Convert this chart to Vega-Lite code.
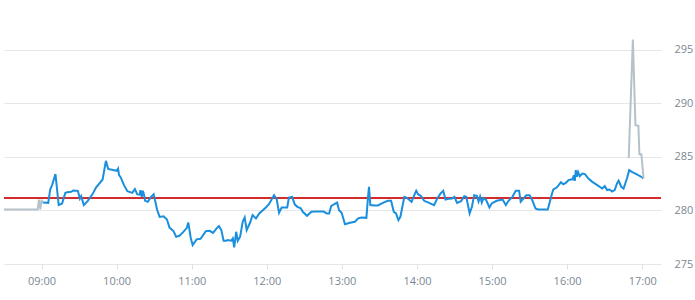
{
  "$schema": "https://vega.github.io/schema/vega-lite/v6.json",
  "width": 695,
  "height": 300,
  "autosize": {"type": "fit", "contains": "padding"},
  "padding": {"left": 0, "top": 0, "right": 2, "bottom": 14},
  "background": "white",
  "config": {"view": {"stroke": null}, "font": "Open Sans"},
  "data": {"values": [
      {"t": "2024-01-02T08:30:00Z", "v": 280.1, "s": "pre"},
      {"t": "2024-01-02T08:55:04Z", "v": 280.1, "s": "pre"},
      {"t": "2024-01-02T08:56:53Z", "v": 280.1, "s": "pre"},
      {"t": "2024-01-02T08:57:54Z", "v": 281.0, "s": "pre"},
      {"t": "2024-01-02T08:59:00Z", "v": 280.1, "s": "pre"},
      {"t": "2024-01-02T09:00:02Z", "v": 281.0, "s": "pre"},
      {"t": "2024-01-02T09:00:50Z", "v": 280.74, "s": "pre"},
      {"t": "2024-01-02T09:00:50Z", "v": 280.74, "s": "reg"},
      {"t": "2024-01-02T09:05:20Z", "v": 280.71, "s": "reg"},
      {"t": "2024-01-02T09:06:55Z", "v": 281.95, "s": "reg"},
      {"t": "2024-01-02T09:08:30Z", "v": 282.39, "s": "reg"},
      {"t": "2024-01-02T09:11:07Z", "v": 283.39, "s": "reg"},
      {"t": "2024-01-02T09:13:43Z", "v": 280.5, "s": "reg"},
      {"t": "2024-01-02T09:16:24Z", "v": 280.65, "s": "reg"},
      {"t": "2024-01-02T09:19:01Z", "v": 281.64, "s": "reg"},
      {"t": "2024-01-02T09:20:35Z", "v": 281.7, "s": "reg"},
      {"t": "2024-01-02T09:23:45Z", "v": 281.74, "s": "reg"},
      {"t": "2024-01-02T09:25:20Z", "v": 281.86, "s": "reg"},
      {"t": "2024-01-02T09:29:03Z", "v": 281.83, "s": "reg"},
      {"t": "2024-01-02T09:30:38Z", "v": 281.1, "s": "reg"},
      {"t": "2024-01-02T09:31:40Z", "v": 281.33, "s": "reg"},
      {"t": "2024-01-02T09:33:47Z", "v": 280.5, "s": "reg"},
      {"t": "2024-01-02T09:36:58Z", "v": 280.9, "s": "reg"},
      {"t": "2024-01-02T09:40:55Z", "v": 281.55, "s": "reg"},
      {"t": "2024-01-02T09:43:31Z", "v": 282.14, "s": "reg"},
      {"t": "2024-01-02T09:48:49Z", "v": 282.89, "s": "reg"},
      {"t": "2024-01-02T09:51:25Z", "v": 284.63, "s": "reg"},
      {"t": "2024-01-02T09:53:14Z", "v": 283.88, "s": "reg"},
      {"t": "2024-01-02T10:00:07Z", "v": 283.7, "s": "reg"},
      {"t": "2024-01-02T10:01:09Z", "v": 283.9, "s": "reg"},
      {"t": "2024-01-02T10:01:56Z", "v": 283.3, "s": "reg"},
      {"t": "2024-01-02T10:03:17Z", "v": 283.08, "s": "reg"},
      {"t": "2024-01-02T10:05:53Z", "v": 282.36, "s": "reg"},
      {"t": "2024-01-02T10:08:35Z", "v": 281.8, "s": "reg"},
      {"t": "2024-01-02T10:12:32Z", "v": 281.64, "s": "reg"},
      {"t": "2024-01-02T10:14:35Z", "v": 282.0, "s": "reg"},
      {"t": "2024-01-02T10:16:29Z", "v": 281.5, "s": "reg"},
      {"t": "2024-01-02T10:18:18Z", "v": 281.47, "s": "reg"},
      {"t": "2024-01-02T10:19:05Z", "v": 281.9, "s": "reg"},
      {"t": "2024-01-02T10:20:07Z", "v": 281.27, "s": "reg"},
      {"t": "2024-01-02T10:20:55Z", "v": 281.84, "s": "reg"},
      {"t": "2024-01-02T10:21:42Z", "v": 281.57, "s": "reg"},
      {"t": "2024-01-02T10:22:48Z", "v": 280.9, "s": "reg"},
      {"t": "2024-01-02T10:24:52Z", "v": 280.8, "s": "reg"},
      {"t": "2024-01-02T10:27:33Z", "v": 281.27, "s": "reg"},
      {"t": "2024-01-02T10:29:36Z", "v": 281.52, "s": "reg"},
      {"t": "2024-01-02T10:31:11Z", "v": 280.7, "s": "reg"},
      {"t": "2024-01-02T10:32:17Z", "v": 280.09, "s": "reg"},
      {"t": "2024-01-02T10:34:21Z", "v": 279.4, "s": "reg"},
      {"t": "2024-01-02T10:37:31Z", "v": 279.45, "s": "reg"},
      {"t": "2024-01-02T10:40:12Z", "v": 279.16, "s": "reg"},
      {"t": "2024-01-02T10:42:15Z", "v": 278.4, "s": "reg"},
      {"t": "2024-01-02T10:45:25Z", "v": 278.07, "s": "reg"},
      {"t": "2024-01-02T10:47:33Z", "v": 277.54, "s": "reg"},
      {"t": "2024-01-02T10:50:10Z", "v": 277.63, "s": "reg"},
      {"t": "2024-01-02T10:53:19Z", "v": 278.0, "s": "reg"},
      {"t": "2024-01-02T10:56:01Z", "v": 278.35, "s": "reg"},
      {"t": "2024-01-02T10:57:16Z", "v": 278.88, "s": "reg"},
      {"t": "2024-01-02T10:59:10Z", "v": 277.48, "s": "reg"},
      {"t": "2024-01-02T11:00:45Z", "v": 276.76, "s": "reg"},
      {"t": "2024-01-02T11:03:55Z", "v": 277.3, "s": "reg"},
      {"t": "2024-01-02T11:07:04Z", "v": 277.35, "s": "reg"},
      {"t": "2024-01-02T11:11:16Z", "v": 278.07, "s": "reg"},
      {"t": "2024-01-02T11:14:25Z", "v": 278.1, "s": "reg"},
      {"t": "2024-01-02T11:17:02Z", "v": 277.9, "s": "reg"},
      {"t": "2024-01-02T11:19:43Z", "v": 278.3, "s": "reg"},
      {"t": "2024-01-02T11:21:46Z", "v": 278.54, "s": "reg"},
      {"t": "2024-01-02T11:23:40Z", "v": 278.16, "s": "reg"},
      {"t": "2024-01-02T11:25:29Z", "v": 277.17, "s": "reg"},
      {"t": "2024-01-02T11:27:38Z", "v": 277.17, "s": "reg"},
      {"t": "2024-01-02T11:28:53Z", "v": 277.23, "s": "reg"},
      {"t": "2024-01-02T11:31:35Z", "v": 277.17, "s": "reg"},
      {"t": "2024-01-02T11:32:50Z", "v": 277.39, "s": "reg"},
      {"t": "2024-01-02T11:33:57Z", "v": 276.55, "s": "reg"},
      {"t": "2024-01-02T11:35:32Z", "v": 278.01, "s": "reg"},
      {"t": "2024-01-02T11:36:47Z", "v": 277.17, "s": "reg"},
      {"t": "2024-01-02T11:38:41Z", "v": 277.55, "s": "reg"},
      {"t": "2024-01-02T11:40:45Z", "v": 278.94, "s": "reg"},
      {"t": "2024-01-02T11:42:20Z", "v": 279.35, "s": "reg"},
      {"t": "2024-01-02T11:43:55Z", "v": 278.16, "s": "reg"},
      {"t": "2024-01-02T11:46:36Z", "v": 278.85, "s": "reg"},
      {"t": "2024-01-02T11:48:39Z", "v": 279.56, "s": "reg"},
      {"t": "2024-01-02T11:51:20Z", "v": 279.25, "s": "reg"},
      {"t": "2024-01-02T11:53:57Z", "v": 279.72, "s": "reg"},
      {"t": "2024-01-02T11:59:15Z", "v": 280.28, "s": "reg"},
      {"t": "2024-01-02T12:01:51Z", "v": 280.6, "s": "reg"},
      {"t": "2024-01-02T12:05:49Z", "v": 281.43, "s": "reg"},
      {"t": "2024-01-02T12:07:56Z", "v": 281.03, "s": "reg"},
      {"t": "2024-01-02T12:09:46Z", "v": 279.78, "s": "reg"},
      {"t": "2024-01-02T12:11:53Z", "v": 280.28, "s": "reg"},
      {"t": "2024-01-02T12:16:19Z", "v": 280.28, "s": "reg"},
      {"t": "2024-01-02T12:17:40Z", "v": 281.2, "s": "reg"},
      {"t": "2024-01-02T12:20:16Z", "v": 281.27, "s": "reg"},
      {"t": "2024-01-02T12:22:25Z", "v": 280.55, "s": "reg"},
      {"t": "2024-01-02T12:24:32Z", "v": 280.34, "s": "reg"},
      {"t": "2024-01-02T12:27:09Z", "v": 280.2, "s": "reg"},
      {"t": "2024-01-02T12:28:44Z", "v": 279.87, "s": "reg"},
      {"t": "2024-01-02T12:32:08Z", "v": 279.5, "s": "reg"},
      {"t": "2024-01-02T12:35:37Z", "v": 279.87, "s": "reg"},
      {"t": "2024-01-02T12:38:46Z", "v": 279.9, "s": "reg"},
      {"t": "2024-01-02T12:41:56Z", "v": 279.9, "s": "reg"},
      {"t": "2024-01-02T12:45:20Z", "v": 279.9, "s": "reg"},
      {"t": "2024-01-02T12:47:56Z", "v": 279.72, "s": "reg"},
      {"t": "2024-01-02T12:49:50Z", "v": 279.72, "s": "reg"},
      {"t": "2024-01-02T12:51:25Z", "v": 280.4, "s": "reg"},
      {"t": "2024-01-02T12:54:02Z", "v": 280.6, "s": "reg"},
      {"t": "2024-01-02T12:56:10Z", "v": 280.74, "s": "reg"},
      {"t": "2024-01-02T12:57:44Z", "v": 280.03, "s": "reg"},
      {"t": "2024-01-02T12:59:48Z", "v": 279.78, "s": "reg"},
      {"t": "2024-01-02T13:02:29Z", "v": 278.72, "s": "reg"},
      {"t": "2024-01-02T13:06:26Z", "v": 278.85, "s": "reg"},
      {"t": "2024-01-02T13:10:23Z", "v": 278.94, "s": "reg"},
      {"t": "2024-01-02T13:13:00Z", "v": 279.26, "s": "reg"},
      {"t": "2024-01-02T13:15:37Z", "v": 279.34, "s": "reg"},
      {"t": "2024-01-02T13:19:34Z", "v": 279.31, "s": "reg"},
      {"t": "2024-01-02T13:20:54Z", "v": 281.27, "s": "reg"},
      {"t": "2024-01-02T13:21:41Z", "v": 282.2, "s": "reg"},
      {"t": "2024-01-02T13:22:43Z", "v": 280.5, "s": "reg"},
      {"t": "2024-01-02T13:26:12Z", "v": 280.47, "s": "reg"},
      {"t": "2024-01-02T13:28:49Z", "v": 280.47, "s": "reg"},
      {"t": "2024-01-02T13:32:46Z", "v": 280.71, "s": "reg"},
      {"t": "2024-01-02T13:36:43Z", "v": 280.9, "s": "reg"},
      {"t": "2024-01-02T13:39:19Z", "v": 280.9, "s": "reg"},
      {"t": "2024-01-02T13:41:28Z", "v": 279.87, "s": "reg"},
      {"t": "2024-01-02T13:43:16Z", "v": 279.72, "s": "reg"},
      {"t": "2024-01-02T13:45:10Z", "v": 279.1, "s": "reg"},
      {"t": "2024-01-02T13:46:45Z", "v": 279.41, "s": "reg"},
      {"t": "2024-01-02T13:49:55Z", "v": 281.27, "s": "reg"},
      {"t": "2024-01-02T13:51:58Z", "v": 281.18, "s": "reg"},
      {"t": "2024-01-02T13:55:41Z", "v": 280.8, "s": "reg"},
      {"t": "2024-01-02T13:57:16Z", "v": 281.27, "s": "reg"},
      {"t": "2024-01-02T13:59:24Z", "v": 281.83, "s": "reg"},
      {"t": "2024-01-02T14:00:59Z", "v": 281.49, "s": "reg"},
      {"t": "2024-01-02T14:03:02Z", "v": 281.37, "s": "reg"},
      {"t": "2024-01-02T14:05:44Z", "v": 280.9, "s": "reg"},
      {"t": "2024-01-02T14:09:41Z", "v": 280.71, "s": "reg"},
      {"t": "2024-01-02T14:13:38Z", "v": 280.5, "s": "reg"},
      {"t": "2024-01-02T14:16:14Z", "v": 281.12, "s": "reg"},
      {"t": "2024-01-02T14:18:51Z", "v": 281.59, "s": "reg"},
      {"t": "2024-01-02T14:20:59Z", "v": 281.83, "s": "reg"},
      {"t": "2024-01-02T14:22:48Z", "v": 281.02, "s": "reg"},
      {"t": "2024-01-02T14:25:29Z", "v": 281.09, "s": "reg"},
      {"t": "2024-01-02T14:28:06Z", "v": 281.12, "s": "reg"},
      {"t": "2024-01-02T14:29:55Z", "v": 281.27, "s": "reg"},
      {"t": "2024-01-02T14:32:03Z", "v": 280.71, "s": "reg"},
      {"t": "2024-01-02T14:35:13Z", "v": 280.87, "s": "reg"},
      {"t": "2024-01-02T14:37:49Z", "v": 281.33, "s": "reg"},
      {"t": "2024-01-02T14:39:24Z", "v": 281.27, "s": "reg"},
      {"t": "2024-01-02T14:42:05Z", "v": 279.72, "s": "reg"},
      {"t": "2024-01-02T14:43:55Z", "v": 280.34, "s": "reg"},
      {"t": "2024-01-02T14:45:44Z", "v": 281.43, "s": "reg"},
      {"t": "2024-01-02T14:47:52Z", "v": 281.37, "s": "reg"},
      {"t": "2024-01-02T14:49:12Z", "v": 280.84, "s": "reg"},
      {"t": "2024-01-02T14:50:28Z", "v": 281.31, "s": "reg"},
      {"t": "2024-01-02T14:51:49Z", "v": 280.74, "s": "reg"},
      {"t": "2024-01-02T14:53:10Z", "v": 281.15, "s": "reg"},
      {"t": "2024-01-02T14:55:13Z", "v": 280.99, "s": "reg"},
      {"t": "2024-01-02T14:57:54Z", "v": 280.28, "s": "reg"},
      {"t": "2024-01-02T14:59:43Z", "v": 280.65, "s": "reg"},
      {"t": "2024-01-02T15:03:40Z", "v": 280.9, "s": "reg"},
      {"t": "2024-01-02T15:08:25Z", "v": 281.02, "s": "reg"},
      {"t": "2024-01-02T15:11:01Z", "v": 280.5, "s": "reg"},
      {"t": "2024-01-02T15:13:10Z", "v": 280.9, "s": "reg"},
      {"t": "2024-01-02T15:16:19Z", "v": 281.27, "s": "reg"},
      {"t": "2024-01-02T15:18:56Z", "v": 281.83, "s": "reg"},
      {"t": "2024-01-02T15:21:37Z", "v": 281.83, "s": "reg"},
      {"t": "2024-01-02T15:22:53Z", "v": 280.81, "s": "reg"},
      {"t": "2024-01-02T15:25:15Z", "v": 281.12, "s": "reg"},
      {"t": "2024-01-02T15:27:23Z", "v": 281.43, "s": "reg"},
      {"t": "2024-01-02T15:29:59Z", "v": 281.43, "s": "reg"},
      {"t": "2024-01-02T15:32:08Z", "v": 280.96, "s": "reg"},
      {"t": "2024-01-02T15:34:44Z", "v": 280.18, "s": "reg"},
      {"t": "2024-01-02T15:36:38Z", "v": 280.09, "s": "reg"},
      {"t": "2024-01-02T15:44:32Z", "v": 280.09, "s": "reg"},
      {"t": "2024-01-02T15:47:56Z", "v": 281.58, "s": "reg"},
      {"t": "2024-01-02T15:48:58Z", "v": 281.96, "s": "reg"},
      {"t": "2024-01-02T15:51:39Z", "v": 282.14, "s": "reg"},
      {"t": "2024-01-02T15:53:14Z", "v": 282.36, "s": "reg"},
      {"t": "2024-01-02T15:55:03Z", "v": 282.64, "s": "reg"},
      {"t": "2024-01-02T15:56:52Z", "v": 282.45, "s": "reg"},
      {"t": "2024-01-02T15:59:00Z", "v": 282.58, "s": "reg"},
      {"t": "2024-01-02T16:01:08Z", "v": 282.83, "s": "reg"},
      {"t": "2024-01-02T16:02:58Z", "v": 282.89, "s": "reg"},
      {"t": "2024-01-02T16:04:18Z", "v": 282.89, "s": "reg"},
      {"t": "2024-01-02T16:05:20Z", "v": 283.29, "s": "reg"},
      {"t": "2024-01-02T16:06:07Z", "v": 282.77, "s": "reg"},
      {"t": "2024-01-02T16:06:55Z", "v": 283.76, "s": "reg"},
      {"t": "2024-01-02T16:07:42Z", "v": 283.14, "s": "reg"},
      {"t": "2024-01-02T16:08:44Z", "v": 283.6, "s": "reg"},
      {"t": "2024-01-02T16:10:04Z", "v": 283.2, "s": "reg"},
      {"t": "2024-01-02T16:12:12Z", "v": 283.45, "s": "reg"},
      {"t": "2024-01-02T16:14:16Z", "v": 283.39, "s": "reg"},
      {"t": "2024-01-02T16:16:57Z", "v": 282.98, "s": "reg"},
      {"t": "2024-01-02T16:20:07Z", "v": 282.67, "s": "reg"},
      {"t": "2024-01-02T16:24:04Z", "v": 282.36, "s": "reg"},
      {"t": "2024-01-02T16:28:01Z", "v": 282.05, "s": "reg"},
      {"t": "2024-01-02T16:30:04Z", "v": 282.27, "s": "reg"},
      {"t": "2024-01-02T16:31:58Z", "v": 281.9, "s": "reg"},
      {"t": "2024-01-02T16:34:01Z", "v": 281.95, "s": "reg"},
      {"t": "2024-01-02T16:35:55Z", "v": 281.77, "s": "reg"},
      {"t": "2024-01-02T16:37:59Z", "v": 281.9, "s": "reg"},
      {"t": "2024-01-02T16:39:52Z", "v": 282.52, "s": "reg"},
      {"t": "2024-01-02T16:41:08Z", "v": 282.77, "s": "reg"},
      {"t": "2024-01-02T16:43:16Z", "v": 282.21, "s": "reg"},
      {"t": "2024-01-02T16:45:05Z", "v": 282.05, "s": "reg"},
      {"t": "2024-01-02T16:47:47Z", "v": 282.98, "s": "reg"},
      {"t": "2024-01-02T16:49:36Z", "v": 283.76, "s": "reg"},
      {"t": "2024-01-02T16:51:44Z", "v": 283.6, "s": "reg"},
      {"t": "2024-01-02T16:55:41Z", "v": 283.36, "s": "reg"},
      {"t": "2024-01-02T17:00:07Z", "v": 283.08, "s": "reg"},
      {"t": "2024-01-02T17:00:54Z", "v": 282.98, "s": "reg"},
      {"t": "2024-01-02T16:49:12Z", "v": 284.9, "s": "post"},
      {"t": "2024-01-02T16:52:31Z", "v": 295.95, "s": "post"},
      {"t": "2024-01-02T16:54:35Z", "v": 287.96, "s": "post"},
      {"t": "2024-01-02T16:56:57Z", "v": 287.9, "s": "post"},
      {"t": "2024-01-02T16:57:44Z", "v": 285.25, "s": "post"},
      {"t": "2024-01-02T16:59:19Z", "v": 285.25, "s": "post"},
      {"t": "2024-01-02T17:01:04Z", "v": 283.0, "s": "post"}
  ]},
  "layer": [
    {
      "mark": {"type": "rule", "color": "#d32f2f", "strokeWidth": 1},
      "encoding": {
        "y": {
          "datum": 281.2,
          "type": "quantitative",
          "scale": {"domain": [275, 299.65], "nice": false, "zero": false},
          "axis": {
            "orient": "right",
            "values": [275, 280, 285, 290, 295],
            "title": null,
            "grid": true,
            "gridColor": "#e6e6e6",
            "domain": false,
            "ticks": false,
            "labelPadding": 13,
            "labelFontSize": 11,
            "labelColor": "#7b8794",
            "labelFont": "Open Sans"
          }
        }
      }
    },
    {
      "transform": [{"filter": "datum.s === 'reg'"}],
      "mark": {"type": "line", "color": "#1a8fde", "strokeWidth": 2},
      "encoding": {
        "x": {
          "field": "t",
          "type": "temporal",
          "scale": {"type": "utc", "domain": [1704184200000, 1704215700000], "nice": false},
          "axis": {
            "title": null,
            "labelExpr": "utcFormat(datum.value, '%H:%M')",
            "values": [1704186000000, 1704189600000, 1704193200000, 1704196800000, 1704200400000, 1704204000000, 1704207600000, 1704211200000, 1704214800000],
            "grid": false,
            "domain": false,
            "ticks": true,
            "tickSize": 5,
            "tickColor": "#e0e0e0",
            "labelPadding": 6,
            "labelFontSize": 11,
            "labelColor": "#7b8794",
            "labelFont": "Open Sans"
          }
        },
        "y": {"field": "v", "type": "quantitative"}
      }
    },
    {
      "transform": [{"filter": "datum.s !== 'reg'"}],
      "mark": {"type": "line", "color": "#b5c2ca", "strokeWidth": 2},
      "encoding": {
        "x": {"field": "t", "type": "temporal"},
        "y": {"field": "v", "type": "quantitative"},
        "detail": {"field": "s"}
      }
    }
  ]
}
